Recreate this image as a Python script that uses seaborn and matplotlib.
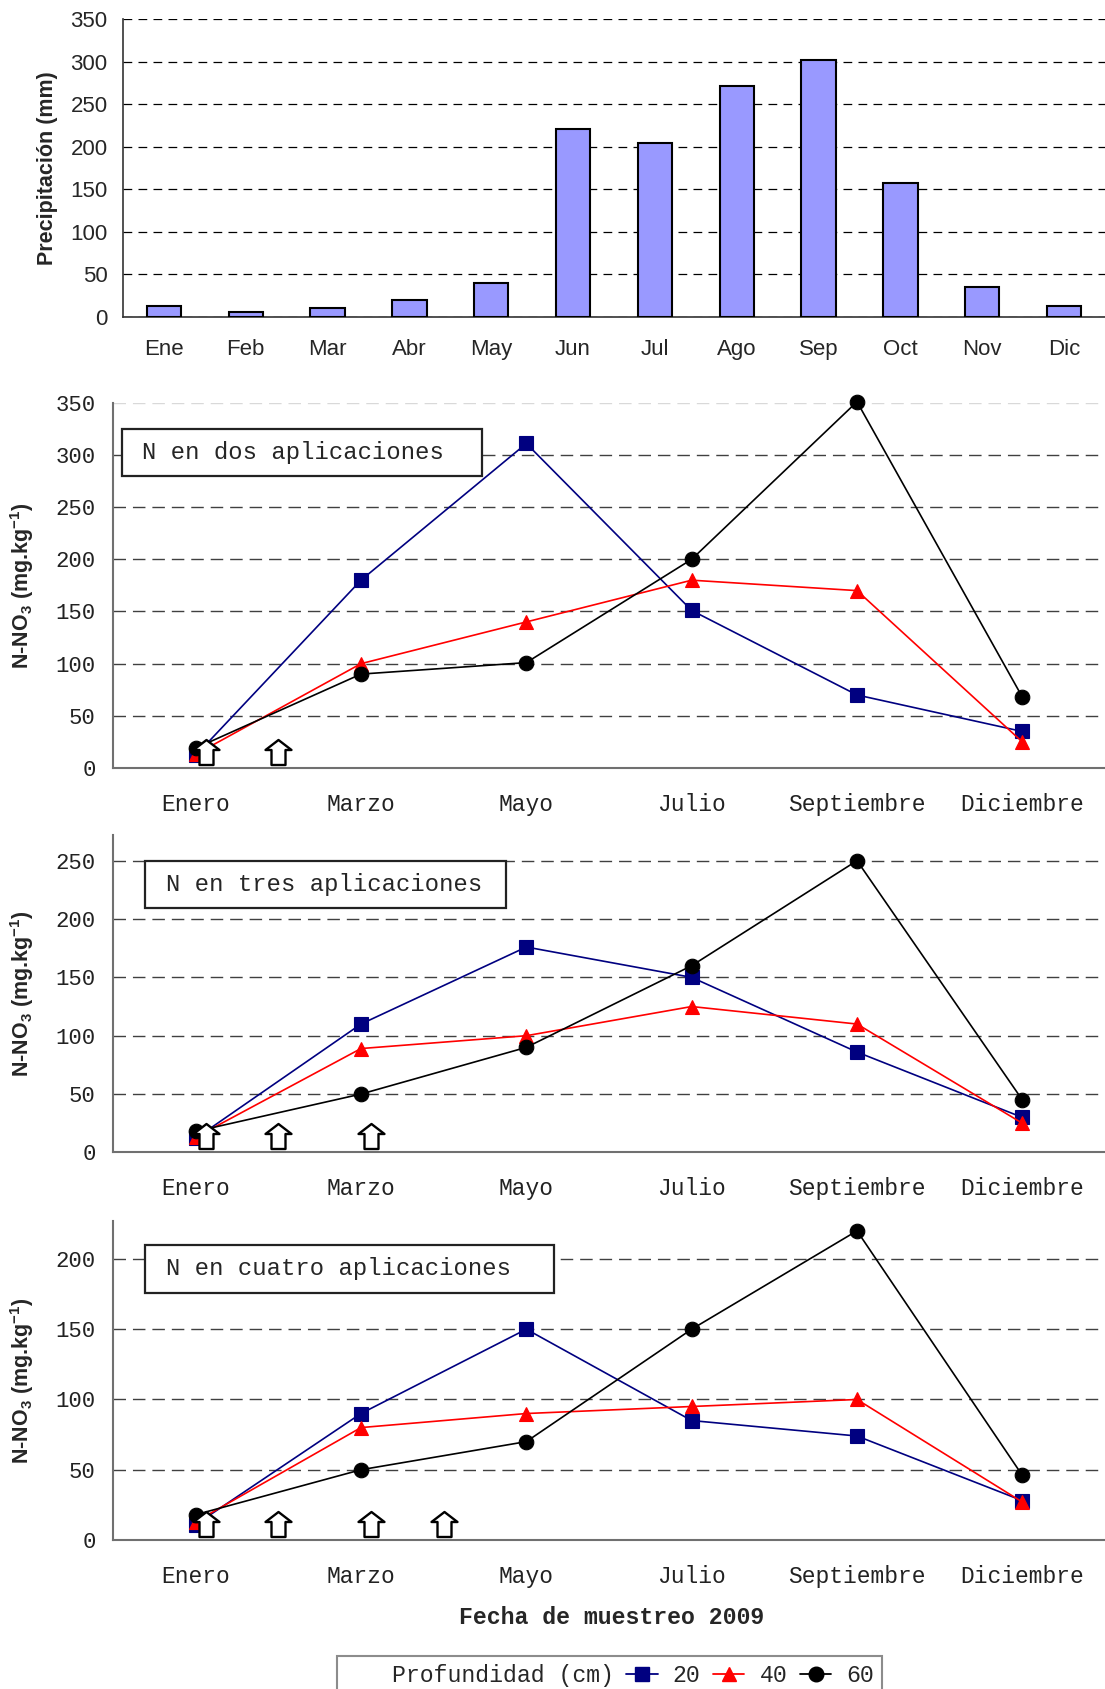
import numpy as np
import pandas as pd
import matplotlib
matplotlib.use("Agg")
import matplotlib.pyplot as plt
import seaborn as sns
from matplotlib.path import Path
from matplotlib.patches import Rectangle
from matplotlib.lines import Line2D

# ---------------- data ----------------
months_short = ["Ene", "Feb", "Mar", "Abr", "May", "Jun", "Jul", "Ago", "Sep", "Oct", "Nov", "Dic"]
precip_mm = [12, 6, 10, 19, 40, 221, 205, 271, 302, 157, 35, 12]

sample_months = ["Enero", "Marzo", "Mayo", "Julio", "Septiembre", "Diciembre"]
depth_labels = ["20", "40", "60"]

dos_20 = [12, 180, 311, 151, 70, 35]
dos_40 = [13, 100, 140, 180, 170, 25]
dos_60 = [19, 90, 101, 200, 351, 68]

tres_20 = [12, 110, 176, 150, 86, 30]
tres_40 = [13, 89, 100, 125, 110, 25]
tres_60 = [18, 50, 90, 160, 250, 45]

cuatro_20 = [11, 90, 150, 85, 74, 28]
cuatro_40 = [13, 80, 90, 95, 100, 27]
cuatro_60 = [18, 50, 70, 150, 220, 46]

# N application timing (in sampling-axis units)
apps_dos = [0.06, 0.5]
apps_tres = [0.06, 0.5, 1.06]
apps_cuatro = [0.06, 0.5, 1.06, 1.5]

panel_titles = ["N en dos aplicaciones", "N en tres aplicaciones", "N en cuatro aplicaciones"]

# ---------------- style ----------------
sns.set_style("white")
plt.rcParams["font.family"] = ["Liberation Sans", "DejaVu Sans"]
plt.rcParams["mathtext.fontset"] = "custom"
plt.rcParams["mathtext.rm"] = "Liberation Sans"
plt.rcParams["mathtext.bf"] = "Liberation Sans:bold"

MONO = ["Liberation Mono", "DejaVu Sans Mono"]
SANS = ["Liberation Sans", "DejaVu Sans"]
colors = ["#000080", "#FF0000", "#000000"]
markers = ["s", "^", "o"]
msizes = [9.5, 10.5, 10.5]

W, H = 1105, 1689
fig = plt.figure(figsize=(W / 100, H / 100), dpi=100)


def px_axes(left, top, right, bottom):
    return fig.add_axes([left / W, 1 - bottom / H, (right - left) / W, (bottom - top) / H])


# ---------------- precipitation bar chart ----------------
ax0 = px_axes(123, 19.4, 1105, 316.6)
sns.barplot(x=months_short, y=precip_mm, ax=ax0, color="#9999FF", saturation=1,
            edgecolor="black", linewidth=1.5, width=0.42, zorder=3)
ax0.set_ylim(0, 350)
ax0.set_xlim(-0.5, len(months_short) - 0.5)
ax0.set_yticks(np.arange(0, 351, 50))
ax0.set_xticks(np.arange(len(months_short)))
ax0.set_xticklabels(months_short)
ax0.set_xticks(np.arange(-0.5, len(months_short), 1), minor=True)
ax0.tick_params(axis="x", which="major", length=0, pad=16, labelsize=16)
ax0.tick_params(axis="x", which="minor", length=5.5, width=1, color="#333333", direction="out")
ax0.tick_params(axis="y", length=5, width=1, color="#333333", direction="out", pad=6, labelsize=16)
ax0.yaxis.grid(True, linestyle=(0, (7, 5)), color="black", linewidth=0.9)
ax0.set_axisbelow(True)
for s in ["top", "right"]:
    ax0.spines[s].set_visible(False)
for s in ["left", "bottom"]:
    ax0.spines[s].set_color("#333333")
    ax0.spines[s].set_linewidth(1.2)
ax0.set_xlabel("")
ax0.set_ylabel("Precipitación (mm)", fontsize=15.5, fontweight="bold")
ax0.yaxis.set_label_coords(-0.066, 0.5)

# ---------------- N-NO3 line panels ----------------
arrow_verts = np.array([(-7, 3.5), (7, 3.5), (7, 18.5), (13, 18.5), (0, 28.5),
                        (-13, 18.5), (-7, 18.5), (-7, 3.5)])
arrow_path = Path(arrow_verts, closed=True)
arrow_ms = 2 * 28.5 / (100 / 72)

panels = [
    (px_axes(113, 402.8, 1105, 768), [dos_20, dos_40, dos_60], 350, apps_dos),
    (px_axes(113, 835, 1105, 1152.4), [tres_20, tres_40, tres_60], 272, apps_tres),
    (px_axes(113, 1221, 1105, 1540), [cuatro_20, cuatro_40, cuatro_60], 227, apps_cuatro),
]
spacing_px = 166.6
x_idx = np.arange(len(sample_months))
for ax, series, ymax, apps in panels:
    for vals, c, m, ms in zip(series, colors, markers, msizes):
        sns.lineplot(x=x_idx, y=vals, ax=ax, color=c, marker=m, markersize=ms,
                     markeredgecolor=c, markeredgewidth=0.8, linewidth=1.2,
                     clip_on=False, zorder=3)
    ax.plot(apps, [0] * len(apps), linestyle="none", marker=arrow_path, markersize=arrow_ms,
            markerfacecolor="white", markeredgecolor="black", markeredgewidth=1.7,
            clip_on=False, zorder=6)
    ax.set_ylim(0, ymax)
    ax.set_xlim(-0.5, -0.5 + 992 / spacing_px)
    ticks = np.arange(0, ymax + 1, 50)
    ax.set_yticks(ticks)
    ax.set_yticklabels([str(int(t)) for t in ticks], fontfamily=MONO, fontsize=16)
    ax.set_xticks(x_idx)
    ax.set_xticklabels(sample_months, fontfamily=MONO, fontsize=16.5)
    ax.set_xticks(np.arange(-0.5, len(sample_months), 1), minor=True)
    ax.tick_params(axis="x", which="major", length=0, pad=18, labelcolor="#222222")
    ax.tick_params(axis="x", which="minor", length=6, width=1.3, color="#707070", direction="out")
    ax.tick_params(axis="y", length=5.5, width=1.3, color="#707070", direction="out", pad=7,
                   labelcolor="#222222")
    ax.yaxis.grid(True, linestyle=(0, (9, 5)), color="#404040", linewidth=1.0)
    ax.set_axisbelow(True)
    for s in ["top", "right"]:
        ax.spines[s].set_visible(False)
    for s in ["left", "bottom"]:
        ax.spines[s].set_color("#707070")
        ax.spines[s].set_linewidth(1.5)
    ax.set_xlabel("")
    ax.set_ylabel(r"N-NO$_\mathbf{3}$ (mg.kg$^\mathbf{-1}$)", fontsize=15.5, fontweight="bold",
                  fontfamily=SANS)
    ax.yaxis.set_label_coords(-0.078, 0.5)

panels[0][0].get_ygridlines()[-1].set_color("#d9d9d9")

# ---------------- title boxes ----------------
boxes = [(121.5, 428.5, 481.5, 476), (145, 861, 506, 908), (145, 1245, 553.6, 1293)]
text_left = [142, 166, 166]
for (x0, y0, x1, y1), tl, title in zip(boxes, text_left, panel_titles):
    fig.add_artist(Rectangle((x0 / W, 1 - y1 / H), (x1 - x0) / W, (y1 - y0) / H,
                             transform=fig.transFigure, facecolor="white",
                             edgecolor="#222222", linewidth=1.6, zorder=5))
    fig.text(tl / W, 1 - ((y0 + y1) / 2) / H, title, ha="left", va="center",
             fontfamily=MONO, fontsize=17.2, zorder=6)

# ---------------- x label ----------------
fig.text(612 / W, 1 - 1617 / H, "Fecha de muestreo 2009", ha="center", va="center",
         fontfamily=MONO, fontweight="bold", fontsize=16.7)

# ---------------- legend ----------------
handles = [Line2D([], [], linestyle="none", marker=None)]
for c, m, ms in zip(colors, markers, msizes):
    handles.append(Line2D([], [], color=c, marker=m, markersize=ms,
                          markeredgecolor=c, linewidth=1.3))
labels = ["Profundidad (cm)"] + depth_labels
leg = fig.legend(handles, labels, loc="upper left", bbox_to_anchor=(337 / W, 1 - 1656 / H),
                 ncol=4, frameon=True, fancybox=False, edgecolor="#707070",
                 prop={"family": MONO, "size": 16.7}, handlelength=1.35, handletextpad=0.65,
                 columnspacing=0.55, borderpad=0.35, borderaxespad=0)
leg.get_frame().set_linewidth(1.5)

fig.savefig("out.png", dpi=100)
